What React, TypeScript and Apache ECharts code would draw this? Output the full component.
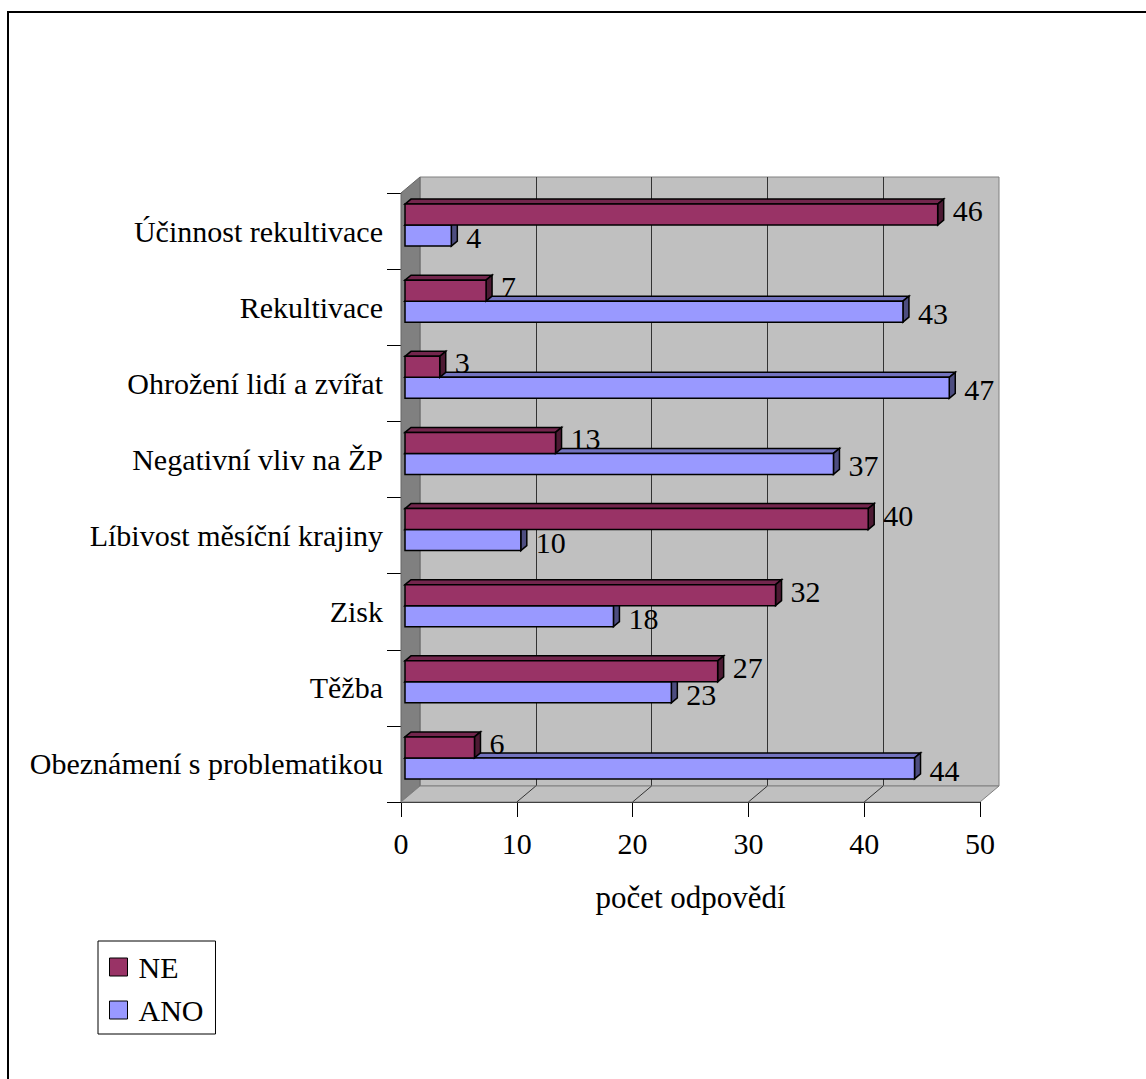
import React, { useEffect, useRef } from "react";
import * as echarts from "echarts";

const CATEGORIES = [
  "Obeznámení s problematikou",
  "Těžba",
  "Zisk",
  "Líbivost měsíční krajiny",
  "Negativní vliv na ŽP",
  "Ohrožení lidí a zvířat",
  "Rekultivace",
  "Účinnost rekultivace",
];
const NE_VALUES = [6, 27, 32, 40, 13, 3, 7, 46];
const ANO_VALUES = [44, 23, 18, 10, 37, 47, 43, 4];
const X_MIN = 0;
const X_MAX = 50;
const X_STEP = 10;
const X_TICKS = [0, 10, 20, 30, 40, 50];
const AXIS_TITLE = "počet odpovědí";

const FONT = "'Liberation Serif', 'Times New Roman', serif";
const FS = 30;

// layout
const GL = 401;
const GT = 193;
const GW = 579;
const GH = 609;
const DX = 19;
const DY = -16;

const BAR_T = 21;
const BX = 4;
const BY = -6;
const FD = 6;
const FZ = 5;

const COLORS = {
  NE: { front: "#993366", top: "#73264d", side: "#4d1a33" },
  ANO: { front: "#9999ff", top: "#7373bf", side: "#4d4d80" },
};

function makeRender(kind: "NE" | "ANO") {
  const c = COLORS[kind];
  return (params: any, api: any) => {
    const v = api.value(0);
    const cat = api.value(1);
    const s = api.coord([0, cat]);
    const e = api.coord([v, cat]);
    const yc = s[1] + BY;
    const top = kind === "NE" ? yc - BAR_T : yc;
    const bot = kind === "NE" ? yc : yc + BAR_T;
    const x0 = s[0] + BX;
    const x1 = e[0] + BX;
    const stroke = { stroke: "#000", lineWidth: 1.5 };
    const mid = (top + bot) / 2;
    return {
      type: "group",
      children: [
        {
          type: "polygon",
          shape: { points: [[x0, top], [x0 + FD, top - FZ], [x1 + FD, top - FZ], [x1, top]] },
          style: { fill: c.top, ...stroke },
        },
        {
          type: "polygon",
          shape: { points: [[x1, top], [x1 + FD, top - FZ], [x1 + FD, bot - FZ], [x1, bot]] },
          style: { fill: c.side, ...stroke },
        },
        {
          type: "rect",
          shape: { x: x0, y: top, width: x1 - x0, height: bot - top },
          style: { fill: c.front, ...stroke },
        },
        {
          type: "text",
          style: {
            text: String(v),
            x: x1 + 15,
            y: kind === "NE" ? mid - 4 : mid + 2,
            fill: "#000",
            fontSize: FS,
            fontFamily: FONT,
            align: "left",
            verticalAlign: "middle",
          },
        },
      ],
    };
  };
}

export default function App() {
  const ref = useRef<HTMLDivElement>(null);
  useEffect(() => {
    if (!ref.current) return;
    const chart = echarts.init(ref.current, undefined, { renderer: "svg" });
    const xs = X_TICKS.map((t) => GL + ((t - X_MIN) / (X_MAX - X_MIN)) * GW);
    const floorLines = xs.slice(1, -1).map((x) => ({
      type: "line",
      z: 1,
      shape: { x1: x, y1: GT + GH, x2: x + DX, y2: GT + GH + DY },
      style: { stroke: "#333", lineWidth: 1 },
    }));
    const option: any = {
      animation: false,
      backgroundColor: "#fff",
      textStyle: { fontFamily: FONT },
      graphic: [
        {
          type: "rect",
          z: 0,
          shape: { x: 8, y: 12, width: 1300, height: 1300 },
          style: { fill: "none", stroke: "#000", lineWidth: 2 },
        },
        {
          type: "polygon",
          z: 1,
          shape: {
            points: [
              [GL, GT],
              [GL + DX, GT + DY],
              [GL + DX, GT + GH + DY],
              [GL, GT + GH],
            ],
          },
          style: { fill: "#808080", stroke: "#666", lineWidth: 1 },
        },
        {
          type: "polygon",
          z: 1,
          shape: {
            points: [
              [GL, GT + GH],
              [GL + DX, GT + GH + DY],
              [GL + GW + DX, GT + GH + DY],
              [GL + GW, GT + GH],
            ],
          },
          style: { fill: "#c0c0c0", stroke: "#808080", lineWidth: 1 },
        },
        ...floorLines,
      ],
      legend: {
        orient: "vertical",
        left: 98,
        top: 941,
        padding: [11, 12, 9, 11],
        itemGap: 13,
        itemWidth: 18,
        itemHeight: 18,
        borderColor: "#000",
        borderWidth: 1,
        backgroundColor: "#fff",
        textStyle: { fontSize: FS, fontFamily: FONT, color: "#000", padding: [0, 0, 0, 6] },
        data: [
          { name: "NE", icon: "rect", itemStyle: { color: COLORS.NE.front, borderColor: "#000", borderWidth: 1 } },
          { name: "ANO", icon: "rect", itemStyle: { color: COLORS.ANO.front, borderColor: "#000", borderWidth: 1 } },
        ],
      },
      grid: [
        { left: GL, top: GT, width: GW, height: GH, containLabel: false },
        {
          left: GL + DX,
          top: GT + DY,
          width: GW,
          height: GH,
          show: true,
          backgroundColor: "#c0c0c0",
          borderColor: "#808080",
          borderWidth: 1,
        },
      ],
      xAxis: [
        {
          type: "value",
          gridIndex: 0,
          min: X_MIN,
          max: X_MAX,
          interval: X_STEP,
          axisLine: { show: true, lineStyle: { color: "#000", width: 1 } },
          axisTick: { show: true, length: 15, lineStyle: { color: "#000" } },
          axisLabel: { fontSize: FS, fontFamily: FONT, color: "#000", margin: 26 },
          splitLine: { show: false },
          name: AXIS_TITLE,
          nameLocation: "middle",
          nameGap: 80,
          nameTextStyle: { fontSize: 31, fontFamily: FONT, color: "#000" },
        },
        {
          type: "value",
          gridIndex: 1,
          min: X_MIN,
          max: X_MAX,
          interval: X_STEP,
          axisLine: { show: false },
          axisTick: { show: false },
          axisLabel: { show: false },
          splitLine: {
            show: true,
            showMinLine: false,
            showMaxLine: false,
            lineStyle: { color: "#333", width: 1 },
          },
        },
      ],
      yAxis: [
        {
          type: "category",
          gridIndex: 0,
          data: CATEGORIES,
          axisLine: { show: true, lineStyle: { color: "#000", width: 1 } },
          axisTick: { show: true, length: 14, lineStyle: { color: "#000" } },
          axisLabel: { fontSize: FS, fontFamily: FONT, color: "#000", margin: 18, interval: 0 },
          splitLine: { show: false },
        },
        {
          type: "category",
          gridIndex: 1,
          data: CATEGORIES,
          show: false,
        },
      ],
      series: [
        {
          name: "ANO",
          type: "custom",
          xAxisIndex: 0,
          yAxisIndex: 0,
          z: 3,
          renderItem: makeRender("ANO"),
          encode: { x: 0, y: 1 },
          data: ANO_VALUES.map((v, i) => [v, i]),
        },
        {
          name: "NE",
          type: "custom",
          xAxisIndex: 0,
          yAxisIndex: 0,
          z: 4,
          renderItem: makeRender("NE"),
          encode: { x: 0, y: 1 },
          data: NE_VALUES.map((v, i) => [v, i]),
        },
      ],
    };
    chart.setOption(option);
    return () => chart.dispose();
  }, []);
  return (
    <div
      ref={ref}
      style={{ position: "fixed", left: 0, top: 0, width: 1146, height: 1079, background: "#fff" }}
    />
  );
}
